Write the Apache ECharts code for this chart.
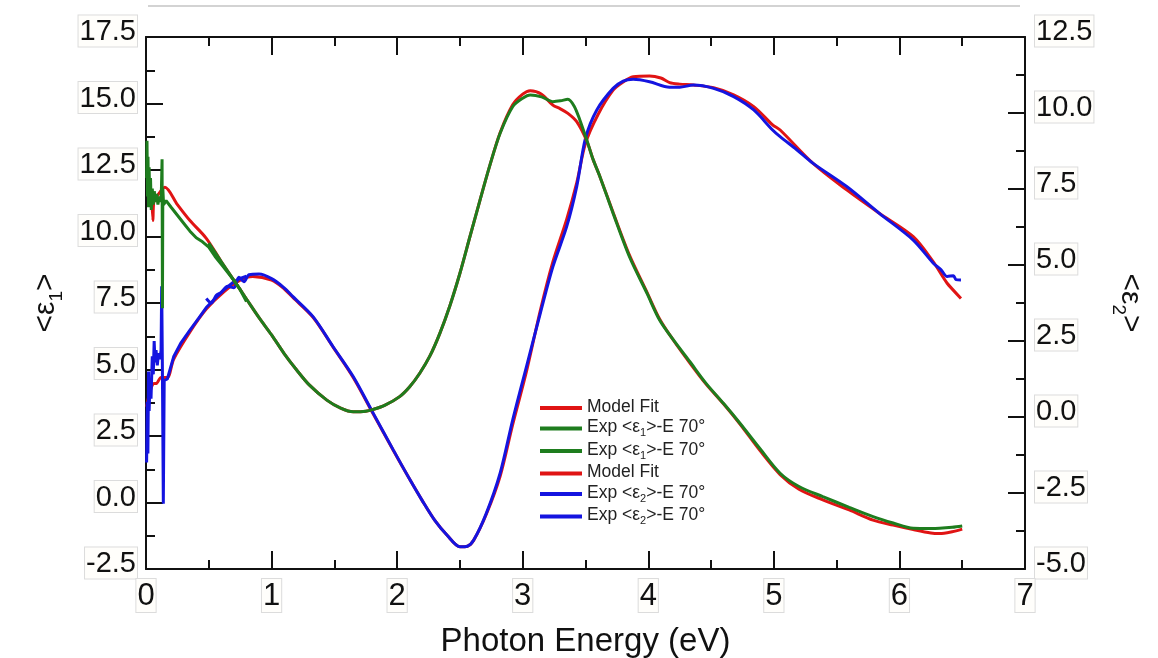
<!DOCTYPE html>
<html>
<head>
<meta charset="utf-8">
<title>ε1 / ε2 vs Photon Energy</title>
<script src="https://cdn.jsdelivr.net/npm/echarts@6/dist/echarts.min.js"></script>
<style>
  html, body { margin: 0; padding: 0; background: #fff; }
  #chart { width: 1158px; height: 658px; }
</style>
</head>
<body>
<div id="chart"></div>
<script>
// axis ticks
const xTicks = [0, 1, 2, 3, 4, 5, 6, 7]
const eps1Ticks = [-2.5, 0, 2.5, 5, 7.5, 10, 12.5, 15, 17.5]
const eps2Ticks = [-5, -2.5, 0, 2.5, 5, 7.5, 10, 12.5]

// <ε1> model fit  [eV, ε1]
const modelEps1 = [
  [0.045, 11.5], [0.055, 10.6], [0.062, 11.3], [0.1, 11.6], [0.15, 11.85], [0.25, 11.2],
  [0.35, 10.6], [0.48, 9.93], [0.6, 9.05], [0.7, 8.35], [0.8, 7.65], [0.9, 6.95], [1.0, 6.3],
  [1.1, 5.6], [1.2, 4.98], [1.3, 4.42], [1.44, 3.85], [1.55, 3.55], [1.65, 3.41], [1.75, 3.43],
  [1.81, 3.5], [1.9, 3.65], [2.02, 3.98], [2.1, 4.35], [2.18, 4.86], [2.26, 5.5], [2.34, 6.36],
  [2.42, 7.4], [2.5, 8.62], [2.58, 10.0], [2.66, 11.37], [2.74, 12.7], [2.82, 13.9], [2.92, 14.95],
  [3.0, 15.35], [3.06, 15.48], [3.15, 15.35], [3.24, 14.94], [3.3, 14.8], [3.36, 14.63], [3.43, 14.32],
  [3.51, 13.6], [3.56, 12.9], [3.615, 12.25], [3.72, 10.9], [3.85, 9.3], [3.99, 7.9], [4.09, 6.9],
  [4.2, 6.1], [4.33, 5.25], [4.46, 4.45], [4.6, 3.7], [4.73, 2.95], [4.89, 1.95], [5.05, 1.05],
  [5.2, 0.5], [5.39, 0.1], [5.6, -0.28], [5.79, -0.66], [5.95, -0.85], [6.11, -1.02], [6.25, -1.15],
  [6.32, -1.17], [6.42, -1.1], [6.5, -1.0]
]
// <ε1> experiment, IR range
const expEps1Ir = [
  [0.005, 12.2], [0.008, 13.6], [0.012, 11.5], [0.016, 13.0], [0.02, 11.1], [0.025, 12.6],
  [0.03, 11.3], [0.036, 12.2], [0.042, 11.0], [0.05, 11.8], [0.058, 11.2], [0.066, 11.7],
  [0.075, 11.3], [0.085, 11.6], [0.095, 11.2], [0.105, 11.5], [0.115, 11.3], [0.122, 11.6],
  [0.128, 12.9], [0.131, 7.3], [0.134, 11.8], [0.14, 11.2], [0.16, 11.35], [0.2, 11.1],
  [0.25, 10.8], [0.3, 10.5], [0.35, 10.2], [0.4, 9.95], [0.45, 9.8], [0.5, 9.6], [0.55, 9.25],
  [0.6, 8.95], [0.65, 8.65], [0.7, 8.35], [0.75, 8.0], [0.8, 7.55]
]
// <ε1> experiment, VIS-UV range
const expEps1Vis = [
  [0.5, 9.75], [0.6, 9.05], [0.7, 8.35], [0.8, 7.65], [0.9, 6.95], [1.0, 6.3], [1.1, 5.6],
  [1.2, 4.98], [1.3, 4.42], [1.44, 3.85], [1.55, 3.55], [1.65, 3.41], [1.75, 3.43], [1.81, 3.5],
  [1.9, 3.65], [2.02, 3.98], [2.1, 4.35], [2.18, 4.86], [2.26, 5.5], [2.34, 6.36], [2.42, 7.4],
  [2.5, 8.62], [2.58, 10.0], [2.66, 11.37], [2.74, 12.7], [2.82, 13.88], [2.92, 14.88], [3.0, 15.2],
  [3.06, 15.32], [3.15, 15.25], [3.24, 15.07], [3.3, 15.1], [3.36, 15.16], [3.41, 14.9],
  [3.455, 14.38], [3.51, 13.63], [3.56, 12.9], [3.615, 12.25], [3.72, 10.87], [3.85, 9.24],
  [3.99, 7.86], [4.09, 6.86], [4.2, 6.11], [4.33, 5.3], [4.46, 4.48], [4.6, 3.72], [4.73, 2.98],
  [4.89, 2.02], [5.05, 1.1], [5.2, 0.6], [5.39, 0.22], [5.6, -0.18], [5.79, -0.53], [5.95, -0.77],
  [6.11, -0.97], [6.25, -0.98], [6.32, -0.97], [6.42, -0.93], [6.5, -0.88]
]

// <ε2> model fit  [eV, ε2]
const modelEps2 = [
  [0.005, 0.34], [0.03, 0.8], [0.06, 1.1], [0.085, 1.11], [0.12, 1.3], [0.17, 1.3], [0.22, 1.9],
  [0.35, 2.8], [0.48, 3.55], [0.62, 4.12], [0.75, 4.5], [0.85, 4.62], [1.0, 4.5], [1.1, 4.22],
  [1.17, 3.93], [1.33, 3.28], [1.49, 2.3], [1.65, 1.3], [1.81, 0.1], [1.97, -1.1], [2.1, -2.05],
  [2.2, -2.75], [2.3, -3.4], [2.4, -3.9], [2.5, -4.27], [2.56, -4.25], [2.61, -4.05], [2.71, -3.2],
  [2.82, -1.95], [2.92, -0.25], [3.03, 1.5], [3.14, 3.5], [3.24, 5.1], [3.35, 6.5], [3.43, 7.7],
  [3.5, 9.0], [3.6, 9.95], [3.72, 10.75], [3.8, 11.02], [3.88, 11.19], [4.01, 11.22], [4.1, 11.15],
  [4.17, 11.0], [4.25, 10.95], [4.36, 10.92], [4.52, 10.83], [4.68, 10.6], [4.84, 10.21],
  [4.99, 9.61], [5.05, 9.44], [5.31, 8.35], [5.58, 7.47], [5.84, 6.7], [6.11, 5.93], [6.27, 5.1],
  [6.38, 4.4], [6.49, 3.9]
]
// <ε2> experiment, IR range
const expEps2Ir = [
  [0.005, -1.5], [0.01, 0.5], [0.015, -1.2], [0.02, 1.5], [0.025, 0.2], [0.032, 1.2], [0.04, 0.6],
  [0.05, 2.0], [0.058, 1.4], [0.065, 2.5], [0.072, 1.8], [0.08, 2.2], [0.09, 1.7], [0.1, 2.1],
  [0.11, 1.9], [0.12, 2.2], [0.125, 4.3], [0.13, 1.9], [0.138, -2.85], [0.145, 1.2], [0.17, 1.25],
  [0.22, 1.98], [0.28, 2.45], [0.35, 2.86], [0.42, 3.25], [0.48, 3.6], [0.55, 3.9], [0.62, 4.18],
  [0.7, 4.45], [0.75, 4.56], [0.8, 4.63]
]
// <ε2> experiment, VIS-UV range
const expEps2Vis = [
  [0.48, 3.9], [0.52, 3.75], [0.56, 4.0], [0.6, 4.1], [0.65, 4.3], [0.7, 4.25], [0.74, 4.6],
  [0.78, 4.45], [0.82, 4.68], [0.9, 4.7], [1.0, 4.55], [1.1, 4.25], [1.17, 3.96], [1.33, 3.3],
  [1.49, 2.31], [1.65, 1.33], [1.81, 0.12], [1.97, -1.09], [2.1, -2.05], [2.2, -2.75], [2.3, -3.4],
  [2.4, -3.9], [2.5, -4.27], [2.56, -4.25], [2.61, -4.05], [2.71, -3.17], [2.82, -1.85], [2.92, -0.1],
  [3.03, 1.66], [3.14, 3.41], [3.24, 4.94], [3.35, 6.26], [3.43, 7.58], [3.5, 9.17], [3.59, 10.1],
  [3.72, 10.81], [3.8, 11.05], [3.88, 11.11], [4.01, 11.03], [4.17, 10.85], [4.25, 10.85],
  [4.36, 10.92], [4.52, 10.81], [4.68, 10.54], [4.84, 10.1], [4.99, 9.44], [5.05, 9.22],
  [5.18, 8.8], [5.31, 8.35], [5.58, 7.58], [5.84, 6.7], [6.11, 5.82], [6.27, 5.06], [6.33, 4.85],
  [6.38, 4.62], [6.43, 4.65], [6.45, 4.52], [6.49, 4.51]
]

const RED = '#e01414'
const GREEN = '#1e7d1e'
const BLUE = '#1414e0'
const FONT = '"Liberation Sans", Arial, sans-serif'

// legend texts (series names are unique, shown text repeats)
const legendText = {
  'Model Fit e1': '{a|Model Fit}',
  'Exp e1 IR': '{a|Exp <ε}{s|1}{a|>-E 70°}',
  'Exp e1 VIS': '{a|Exp <ε}{s|1}{a|>-E 70°}',
  'Model Fit e2': '{a|Model Fit}',
  'Exp e2 IR': '{a|Exp <ε}{s|2}{a|>-E 70°}',
  'Exp e2 VIS': '{a|Exp <ε}{s|2}{a|>-E 70°}'
}

const chart = echarts.init(document.getElementById('chart'))

// tick labels sit in light boxes, a bit above their tick
const boxStyle = {
  fontFamily: FONT,
  fontSize: 29,
  color: '#111',
  borderColor: '#dcdcdc',
  borderWidth: 1,
  backgroundColor: '#fffefb',
  padding: [2, 1, 0, 1]
}
const lineColor = { color: '#111', width: 2 }

function lineSeries (name, data, color, yIndex, smooth) {
  return {
    name: name,
    type: 'line',
    data: data,
    yAxisIndex: yIndex,
    showSymbol: false,
    smooth: smooth,
    lineStyle: { color: color, width: 3 },
    itemStyle: { color: color },
    emphasis: { disabled: true }
  }
}

function titleRich () {
  return {
    a: { fontFamily: FONT, fontSize: 30, lineHeight: 32, verticalAlign: 'top', color: '#111' },
    s: { fontFamily: FONT, fontSize: 19, lineHeight: 19, padding: [17, 0, 0, 0], verticalAlign: 'top', color: '#111' }
  }
}

const option = {
  animation: false,
  backgroundColor: '#fff',
  textStyle: { fontFamily: FONT },
  // keep the plot box fixed, labels may run to the edge
  grid: { left: 146, right: 133, top: 37, bottom: 89, containLabel: false, outerBoundsMode: 'none' },
  legend: {
    orient: 'vertical',
    left: 540,
    top: 398,
    padding: 0,
    itemGap: 2.5,
    itemWidth: 42,
    itemHeight: 4,
    icon: 'rect',
    data: ['Model Fit e1', 'Exp e1 IR', 'Exp e1 VIS', 'Model Fit e2', 'Exp e2 IR', 'Exp e2 VIS'],
    formatter: name => legendText[name],
    textStyle: {
      rich: {
        a: { fontFamily: FONT, fontSize: 17.5, lineHeight: 20, verticalAlign: 'top', color: '#222' },
        s: { fontFamily: FONT, fontSize: 11, lineHeight: 11, padding: [9, 0, 0, 0], verticalAlign: 'top', color: '#222' }
      }
    }
  },
  graphic: [{
    type: 'line',
    shape: { x1: 148, y1: 6, x2: 1020, y2: 6 },
    style: { stroke: '#c4c4c4', lineWidth: 1.5 }
  }],
  xAxis: [
    {
      type: 'value',
      min: xTicks[0],
      max: xTicks[xTicks.length - 1],
      interval: 1,
      name: 'Photon Energy (eV)',
      nameLocation: 'middle',
      nameGap: 56,
      nameTextStyle: { fontFamily: FONT, fontSize: 33, color: '#111' },
      axisLine: { onZero: false, lineStyle: lineColor },
      axisTick: { inside: true, length: 18, lineStyle: lineColor },
      minorTick: { show: true, splitNumber: 2, length: 9, lineStyle: lineColor },
      axisLabel: {
        margin: 10,
        formatter: v => '{v|' + v + '}',
        rich: { v: { ...boxStyle, fontSize: 31 } }
      },
      splitLine: { show: false }
    },
    {
      type: 'value',
      position: 'top',
      min: xTicks[0],
      max: xTicks[xTicks.length - 1],
      interval: 1,
      axisLine: { onZero: false, lineStyle: lineColor },
      axisTick: { inside: true, length: 18, lineStyle: lineColor },
      minorTick: { show: true, splitNumber: 2, length: 9, lineStyle: lineColor },
      axisLabel: { show: false },
      splitLine: { show: false }
    }
  ],
  yAxis: [
    {
      type: 'value',
      position: 'left',
      min: eps1Ticks[0],
      max: eps1Ticks[eps1Ticks.length - 1],
      interval: 2.5,
      name: '{a|<ε}{s|1}{a|>}',
      nameLocation: 'middle',
      nameRotate: 90,
      nameGap: 80,
      nameTextStyle: { rich: titleRich() },
      axisLine: { show: true, onZero: false, lineStyle: lineColor },
      axisTick: { inside: true, length: 17, lineStyle: lineColor },
      minorTick: { show: true, splitNumber: 2, length: 9, lineStyle: lineColor },
      axisLabel: {
        margin: 9,
        padding: [0, 0, 12, 0],
        formatter: v => '{v|' + v.toFixed(1) + '}',
        rich: { v: boxStyle }
      },
      splitLine: { show: false }
    },
    {
      type: 'value',
      position: 'right',
      min: eps2Ticks[0],
      max: eps2Ticks[eps2Ticks.length - 1],
      interval: 2.5,
      name: '{a|<ε}{s|2}{a|>}',
      nameLocation: 'middle',
      nameRotate: -90,
      nameGap: 88,
      nameTextStyle: { rich: titleRich() },
      axisLine: { show: true, onZero: false, lineStyle: lineColor },
      axisTick: { inside: true, length: 17, lineStyle: lineColor },
      minorTick: { show: true, splitNumber: 2, length: 9, lineStyle: lineColor },
      axisLabel: {
        margin: 10,
        padding: [0, 0, 12, 0],
        formatter: v => '{v|' + v.toFixed(1) + '}',
        rich: { v: boxStyle }
      },
      splitLine: { show: false }
    }
  ],
  series: [
    lineSeries('Model Fit e2', modelEps2, RED, 1, 0.3),
    lineSeries('Exp e2 IR', expEps2Ir, BLUE, 1, false),
    lineSeries('Exp e2 VIS', expEps2Vis, BLUE, 1, 0.3),
    lineSeries('Model Fit e1', modelEps1, RED, 0, 0.3),
    lineSeries('Exp e1 IR', expEps1Ir, GREEN, 0, false),
    lineSeries('Exp e1 VIS', expEps1Vis, GREEN, 0, 0.3)
  ]
}

chart.setOption(option)
</script>
</body>
</html>
